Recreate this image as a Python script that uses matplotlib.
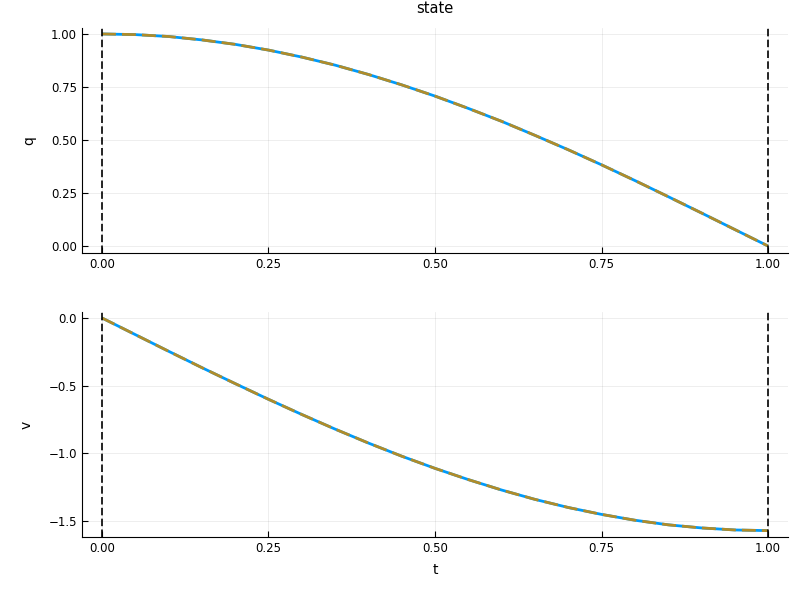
import matplotlib
matplotlib.use("Agg")
import matplotlib.pyplot as plt

# values
t = [0.00, 0.05, 0.10, 0.15, 0.20, 0.25, 0.30, 0.35, 0.40, 0.45, 0.50,
     0.55, 0.60, 0.65, 0.70, 0.75, 0.80, 0.85, 0.90, 0.95, 1.00]
q = [1.000, 0.997, 0.988, 0.972, 0.951, 0.924, 0.891, 0.853, 0.809, 0.760, 0.707,
     0.649, 0.588, 0.522, 0.454, 0.383, 0.309, 0.233, 0.156, 0.078, 0.000]
v = [0.000, -0.123, -0.246, -0.367, -0.485, -0.601, -0.713, -0.821, -0.924, -1.021, -1.111,
     -1.194, -1.271, -1.340, -1.400, -1.451, -1.494, -1.528, -1.551, -1.566, -1.571]
t_bounds = [0.0, 1.0]

xticks = [0.0, 0.25, 0.5, 0.75, 1.0]
q_ticks = [0.0, 0.25, 0.5, 0.75, 1.0]
v_ticks = [-1.5, -1.0, -0.5, 0.0]

fig = plt.figure(figsize=(8, 6), dpi=100)
ax1 = fig.add_axes([0.1025, 0.5783, 0.8825, 0.375])
ax2 = fig.add_axes([0.1025, 0.105, 0.8825, 0.375])


def style(ax):
    for s in ["top", "right"]:
        ax.spines[s].set_visible(False)
    ax.tick_params(direction="in", length=4, labelsize=8.5, colors="black")
    ax.grid(True, color="black", alpha=0.08, linewidth=0.6)
    ax.set_axisbelow(True)
    ax.set_xlim(-0.03, 1.03)
    ax.set_xticks(xticks)
    ax.set_xticklabels([f"{x:.2f}" for x in xticks])


for ax, y in [(ax1, q), (ax2, v)]:
    style(ax)
    ax.plot(t, y, color="#009af9", lw=2, solid_capstyle="butt")
    ax.plot(t, y, color="#b08c2a", lw=2, dashes=(5, 2.2))
    for tb in t_bounds:
        ax.axvline(tb, color="black", lw=1.2, dashes=(4.5, 2.0))

ax1.set_ylim(-0.033, 1.028)
ax1.set_yticks(q_ticks)
ax1.set_yticklabels([f"{x:.2f}" for x in q_ticks])
ax1.set_ylabel("q", fontsize=10, labelpad=11)
ax1.set_title("state", fontsize=10.5, pad=10.5)

ax2.set_ylim(-1.618, 0.044)
ax2.set_yticks(v_ticks)
ax2.set_yticklabels([f"{x:.1f}".replace("-", "\u2212") for x in v_ticks])
ax2.set_ylabel("v", fontsize=10, labelpad=11)
ax2.set_xlabel("t", fontsize=10, labelpad=6)

fig.savefig("out.png", dpi=100)
